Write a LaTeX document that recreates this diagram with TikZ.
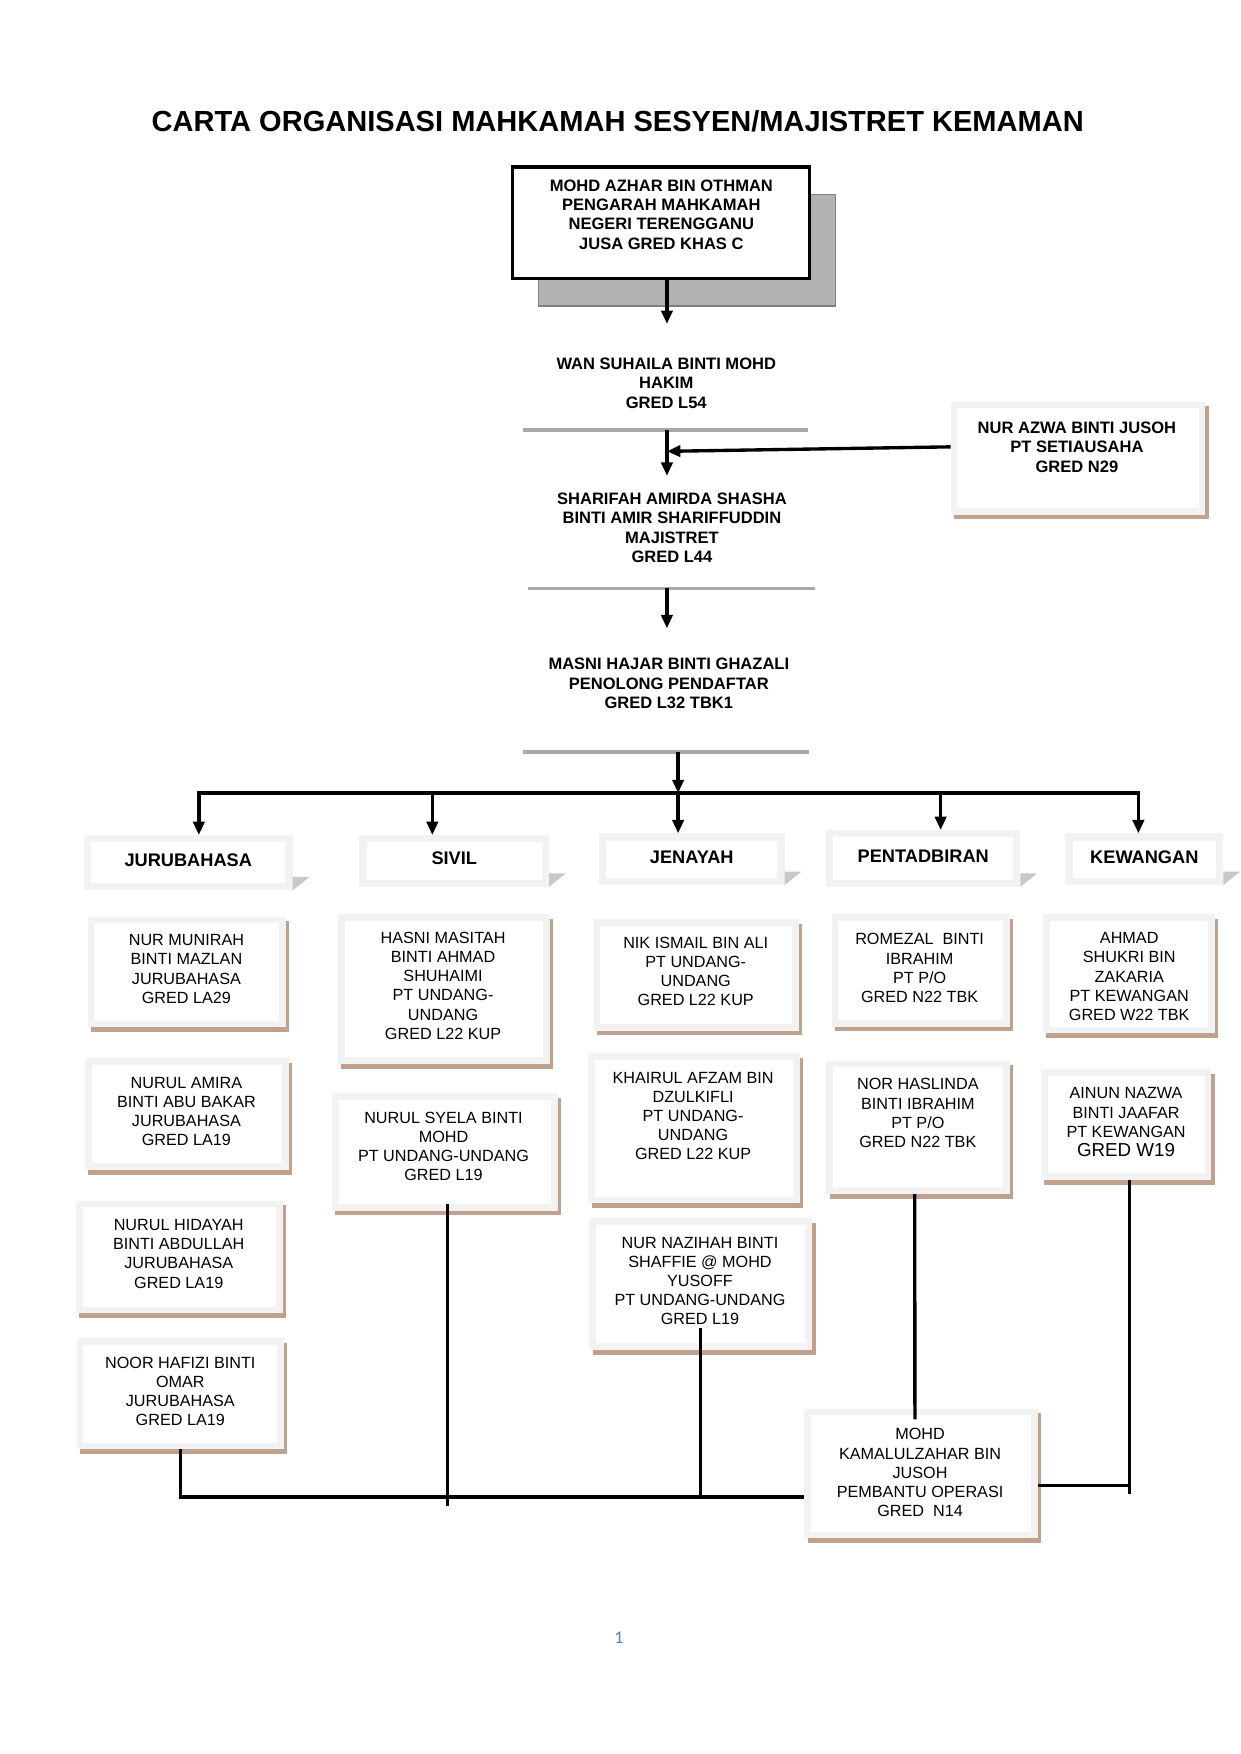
\documentclass[tikz,border=0pt]{standalone}
\usepackage{fontspec}
\setmainfont{Liberation Sans}
\newfontfamily\pagefont{Carlito}
\usetikzlibrary{arrows.meta,shadows,calc}
\definecolor{FrameGray}{HTML}{F2F2F2}
\definecolor{ShadowTan}{HTML}{C0A18E}
\definecolor{HdrShade}{HTML}{C8C8C8}
\definecolor{RuleGray}{HTML}{A8A8A8}
\definecolor{ShadowGray}{HTML}{B2B2B2}
\definecolor{ShadowLine}{HTML}{7F7F7F}
\definecolor{PageBlue}{HTML}{4F81BD}

\tikzset{
  charttitle/.style={font=\fontsize{26}{31}\selectfont\bfseries, inner sep=0pt, anchor=base},
  boldname/.style={font=\fontsize{14.8}{17.4}\selectfont\bfseries, align=center, inner sep=0pt, anchor=north},
  staff/.style={font=\fontsize{14.5}{17.2}\selectfont, align=center, inner sep=0pt, anchor=north},
  pengarahbox/.style={draw=black, line width=3pt, fill=white, inner sep=0pt,
    drop shadow={shadow xshift=23.5pt, shadow yshift=-24.5pt, fill=ShadowGray, draw=ShadowLine, line width=1.5pt, opacity=1}},
  staffbox/.style={fill=FrameGray, inner sep=0pt, outer sep=0pt,
    drop shadow={shadow xshift=3pt, shadow yshift=-4pt, fill=ShadowTan, opacity=1},
    path picture={\fill[white] ([shift={(6pt,-6pt)}]path picture bounding box.north west) rectangle ([shift={(-6pt,6pt)}]path picture bounding box.south east);}},
  deptbox/.style={fill=FrameGray, inner sep=0pt, outer sep=0pt,
    font=\fontsize{16.3}{19}\selectfont\bfseries, text height=12pt, text depth=5pt,
    path picture={\fill[white] ([shift={(6.5pt,-6.5pt)}]path picture bounding box.north west) rectangle ([shift={(-6.5pt,6.5pt)}]path picture bounding box.south east);}},
  rulegray/.style={draw=RuleGray, line width=3pt},
  connector/.style={draw=black, line width=3pt},
  arrowline/.style={draw=black, line width=3pt, -{Triangle[width=10pt,length=12pt]}},
  pagenum/.style={font=\pagefont\fontsize{16}{19}\selectfont, text=PageBlue, inner sep=0pt}
}

\begin{document}
\begin{tikzpicture}[x=1pt,y=1pt]
\useasboundingbox (0,0) rectangle (1110,-1570.1);

\node[charttitle] (title) at (553,-117.5) {CARTA ORGANISASI MAHKAMAH SESYEN/MAJISTRET KEMAMAN};

% top of the chart
\node[pengarahbox, minimum width=266pt, minimum height=100pt] (pengarah) at (591.5,-199.5) {};
\node[boldname] (pengarah-t) at (592,-160.5) {MOHD AZHAR BIN OTHMAN\\PENGARAH MAHKAMAH\\NEGERI TERENGGANU\\JUSA GRED KHAS C};

\coordinate (spine) at (597,0);

\node[boldname] (wan) at (596.4,-320) {WAN SUHAILA BINTI MOHD\\HAKIM\\GRED L54};
\draw[rulegray] (468,-385) coordinate (rule1) -- (723,-385);

\node[boldname] (sharifah) at (601.5,-441) {SHARIFAH AMIRDA SHASHA\\BINTI AMIR SHARIFFUDDIN\\MAJISTRET\\GRED L44};
\draw[rulegray] (473,-526.7) coordinate (rule2) -- (729.6,-526.7);

\node[boldname] (masni) at (598.7,-589) {MASNI HAJAR BINTI GHAZALI\\PENOLONG PENDAFTAR\\GRED L32 TBK1};
\draw[rulegray] (468,-673) coordinate (rule3) -- (724,-673);

\node[staffbox, minimum width=228pt, minimum height=101.4pt] (azwa) at (965,-410.3) {};
\node[boldname] (azwa-t) at (964,-377.5) {NUR AZWA BINTI JUSOH\\PT SETIAUSAHA\\GRED N29};

\draw[arrowline] (pengarah.south -| spine) -- ([yshift=30pt]wan.north -| spine);
\draw[arrowline] (rule1 -| spine) -- ([yshift=15pt]sharifah.north -| spine);
\draw[arrowline] (rule2 -| spine) -- ([yshift=26.5pt]masni.north -| spine);
\draw[arrowline] ([yshift=10.3pt]azwa.west) -- ([yshift=6.3pt]azwa.west -| spine);

% units
\node[deptbox, minimum width=187pt, minimum height=49.5pt] (juru) at (168.5,-772.25) {JURUBAHASA};
\node[deptbox, minimum width=169.7pt, minimum height=46.3pt] (sivil) at (406.65,-770.65) {SIVIL};
\node[deptbox, minimum width=166.4pt, minimum height=46.3pt] (jenayah) at (619.2,-769.15) {JENAYAH};
\node[deptbox, minimum width=173.9pt, minimum height=50.8pt] (pentad) at (826.45,-768.4) {PENTADBIRAN};
\node[deptbox, minimum width=141.3pt, minimum height=46.3pt] (kewangan) at (1024.35,-769.15) {KEWANGAN};

\fill[HdrShade] ([yshift=12pt]juru.south east) -- ++(15,0) -- (juru.south east) -- cycle;
\fill[HdrShade] ([yshift=12pt]sivil.south east) -- ++(15,0) -- (sivil.south east) -- cycle;
\fill[HdrShade] ([yshift=12pt]jenayah.south east) -- ++(15,0) -- (jenayah.south east) -- cycle;
\fill[HdrShade] ([yshift=12pt]pentad.south east) -- ++(15,0) -- (pentad.south east) -- cycle;
\fill[HdrShade] ([yshift=12pt]kewangan.south east) -- ++(15,0) -- (kewangan.south east) -- cycle;

\coordinate (bus) at (0,-710);
\draw[connector, line cap=rect] ([xshift=9.5pt]juru.north |- bus) -- ([xshift=-5.35pt]kewangan.north |- bus);
\draw[arrowline] ([xshift=-12.2pt]jenayah.north |- rule3) -- ([xshift=-12.2pt]jenayah.north |- bus);
\draw[arrowline] ([xshift=9.5pt]juru.north |- bus) -- ([xshift=9.5pt]juru.north);
\draw[arrowline] ([xshift=-19.65pt]sivil.north |- bus) -- ([xshift=-19.65pt]sivil.north);
\draw[arrowline] ([xshift=-12.2pt]jenayah.north |- bus) -- ([xshift=-12.2pt]jenayah.north);
\draw[arrowline] ([xshift=15.55pt]pentad.north |- bus) -- ([xshift=15.55pt]pentad.north);
\draw[arrowline] ([xshift=-5.35pt]kewangan.north |- bus) -- ([xshift=-5.35pt]kewangan.north);

% JURUBAHASA
\node[staffbox, minimum width=177.6pt, minimum height=99.1pt] (munirah) at (167.2,-870.2) {};
\node[staff] (munirah-t) at (166.9,-836.4) {NUR MUNIRAH\\BINTI MAZLAN\\JURUBAHASA\\GRED LA29};
\node[staffbox, minimum width=182.7pt, minimum height=100pt] (amira) at (167.35,-997.4) {};
\node[staff] (amira-t) at (166.9,-963.8) {NURUL AMIRA\\BINTI ABU BAKAR\\JURUBAHASA\\GRED LA19};
\node[staffbox, minimum width=185.3pt, minimum height=100.9pt] (hidayah) at (160.65,-1125.25) {};
\node[staff] (hidayah-t) at (160,-1091.2) {NURUL HIDAYAH\\BINTI ABDULLAH\\JURUBAHASA\\GRED LA19};
\node[staffbox, minimum width=185.8pt, minimum height=99.4pt] (hafizi) at (161.4,-1247.7) {};
\node[staff] (hafizi-t) at (161.4,-1214.5) {NOOR HAFIZI BINTI\\OMAR\\JURUBAHASA\\GRED LA19};

% SIVIL
\node[staffbox, minimum width=189.6pt, minimum height=134pt] (hasni) at (397.2,-885.5) {};
\node[staff] (hasni-t) at (396.6,-834) {HASNI MASITAH\\BINTI AHMAD\\SHUHAIMI\\PT UNDANG-\\UNDANG\\GRED L22 KUP};
\node[staffbox, minimum width=202.3pt, minimum height=105.3pt] (syela) at (398.35,-1031.35) {};
\node[staff] (syela-t) at (397,-995.1) {NURUL SYELA BINTI\\MOHD\\PT UNDANG-UNDANG\\GRED L19};

% JENAYAH
\node[staffbox, minimum width=183.9pt, minimum height=99.6pt] (nik) at (623.25,-872.8) {};
\node[staff] (nik-t) at (622.8,-838.5) {NIK ISMAIL BIN ALI\\PT UNDANG-\\UNDANG\\GRED L22 KUP};
\node[staffbox, minimum width=189.2pt, minimum height=134.2pt] (khairul) at (621.3,-1010.1) {};
\node[staff] (khairul-t) at (620.4,-959.3) {KHAIRUL AFZAM BIN\\DZULKIFLI\\PT UNDANG-\\UNDANG\\GRED L22 KUP};
\node[staffbox, minimum width=199.5pt, minimum height=117.9pt] (nazihah) at (627.25,-1149.55) {};
\node[staff] (nazihah-t) at (626.6,-1107) {NUR NAZIHAH BINTI\\SHAFFIE @ MOHD\\YUSOFF\\PT UNDANG-UNDANG\\GRED L19};

% PENTADBIRAN
\node[staffbox, minimum width=159.5pt, minimum height=100.5pt] (romezal) at (824.25,-868.75) {};
\node[staff] (romezal-t) at (823.2,-835.5) {ROMEZAL~~BINTI\\IBRAHIM\\PT P/O\\GRED N22 TBK};
\node[staffbox, minimum width=164.4pt, minimum height=119.4pt] (haslinda) at (821.8,-1009.2) {};
\node[staff] (haslinda-t) at (821.6,-965.3) {NOR HASLINDA\\BINTI IBRAHIM\\PT P/O\\GRED N22 TBK};
\node[staffbox, minimum width=209pt, minimum height=116pt] (kamal) at (824.5,-1319) {};
\node[staff] (kamal-t) at (823.6,-1278.6) {MOHD\\KAMALULZAHAR BIN\\JUSOH\\PEMBANTU OPERASI\\GRED~~N14};

% KEWANGAN
\node[staffbox, minimum width=153.7pt, minimum height=106.5pt] (ahmad) at (1010.55,-871.75) {};
\node[staff] (ahmad-t) at (1010.8,-834.6) {AHMAD\\SHUKRI BIN\\ZAKARIA\\PT KEWANGAN\\GRED W22 TBK};
\node[staffbox, minimum width=152.6pt, minimum height=99.1pt] (ainun) at (1008.1,-1006.75) {};
\node[staff] (ainun-t) at (1008,-973.4) {AINUN NAZWA\\BINTI JAAFAR\\PT KEWANGAN\\{\fontsize{16.8}{17.5}\selectfont GRED W19}};

% lines at the bottom
\draw[connector] (hafizi.south) |- ([yshift=-21pt]kamal.west);
\draw[connector] ([xshift=2.4pt,yshift=6.5pt]syela.south) -- ($(syela.south |- kamal.west)+(2.4,-29)$);
\draw[connector] ([yshift=19.5pt]nazihah.south) -- ($(nazihah.south |- kamal.west)+(0,-21)$);
\draw[connector] ([xshift=-3pt]haslinda.south) -- ([xshift=-5.5pt,yshift=-9.6pt]kamal.north);
\draw[connector] ([xshift=3pt]ainun.south) -- ($(ainun.south |- kamal.west)+(3,-18.6)$);
\draw[connector] ([yshift=-11pt]kamal.east) -- ($(ainun.south |- kamal.east)+(3,-11)$);

\node[pagenum] (page) at (554,-1466) {1};
\end{tikzpicture}
\end{document}
